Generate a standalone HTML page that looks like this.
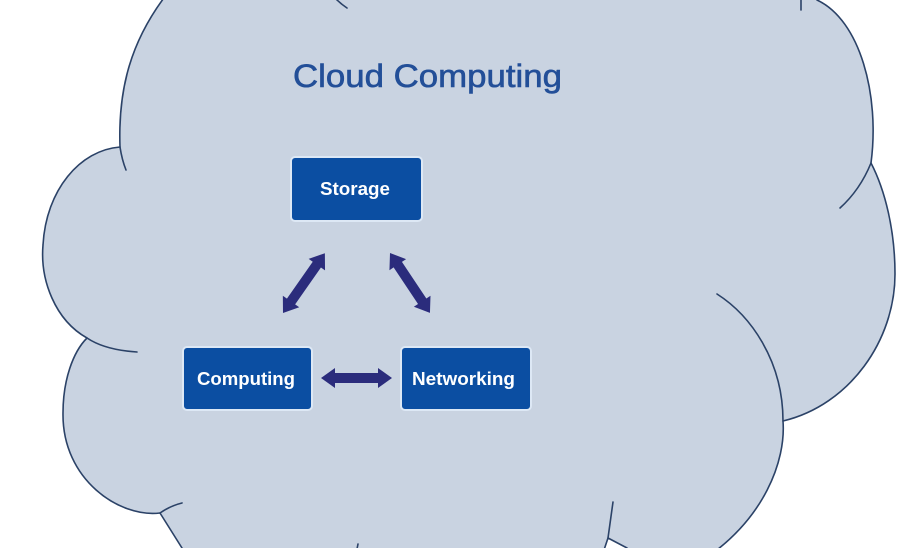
<!DOCTYPE html>
<html>
<head>
<meta charset="utf-8">
<style>
  html, body { margin: 0; padding: 0; background: #ffffff; }
  body { width: 900px; height: 548px; overflow: hidden; }
  svg { display: block; }
</style>
</head>
<body>
<svg width="900" height="548" viewBox="0 0 900 548" xmlns="http://www.w3.org/2000/svg">
  <rect x="0" y="0" width="900" height="548" fill="#ffffff"/>
  <!-- cloud body -->
  <path d="M 170,-10 L 812,-10 L 817,0
           C 860,20 880,95 871,163
           C 885,190 895,230 895,274
           C 895,340 850,405 783,421
           C 786,460 765,520 700,562
           L 632,562 L 627,548 L 608,538 L 600,562
           L 190,562 L 182,548 L 160,513
           C 120,518 62,480 63,413
           C 63,380 73,352 87,338
           C 55,320 40,280 43,245
           C 46,190 80,150 120,147
           C 118,90 130,40 170,-10 Z"
        fill="#c9d3e1" stroke="#2b4267" stroke-width="1.6" stroke-linejoin="round"/>
  <!-- inner lobe tails -->
  <g fill="none" stroke="#2b4267" stroke-width="1.6" stroke-linecap="round">
    <path d="M 120,147 Q 122,160 126,170"/>
    <path d="M 87,338 Q 105,350 137,352"/>
    <path d="M 160,513 Q 170,506 182,503"/>
    <path d="M 871,163 Q 860,190 840,208"/>
    <path d="M 717,294 C 750,315 783,360 783,421"/>
    <path d="M 608,538 L 613,502"/>
    <path d="M 357,549 L 358,544"/>
    <path d="M 336,-1 Q 341,4 347,8"/>
    <path d="M 801,-1 L 801,10"/>
  </g>

  <!-- title -->
  <text x="293" y="87" font-family="'Liberation Sans', sans-serif" font-size="32" fill="#234f98" stroke="#234f98" stroke-width="0.6" textLength="269" lengthAdjust="spacingAndGlyphs">Cloud Computing</text>

  <!-- boxes -->
  <g stroke="#dde8f5" stroke-width="2" fill="#0b4ea2">
    <rect x="291" y="157" width="131" height="64" rx="4" ry="4"/>
    <rect x="183" y="347" width="129" height="63" rx="4" ry="4"/>
    <rect x="401" y="347" width="130" height="63" rx="4" ry="4"/>
  </g>
  <g font-family="'Liberation Sans', sans-serif" font-weight="bold" font-size="18" fill="#ffffff">
    <text x="320" y="195" textLength="70" lengthAdjust="spacingAndGlyphs">Storage</text>
    <text x="197" y="385" textLength="98" lengthAdjust="spacingAndGlyphs">Computing</text>
    <text x="412" y="385" textLength="103" lengthAdjust="spacingAndGlyphs">Networking</text>
  </g>

  <!-- arrows -->
  <g fill="#2b2c7c">
    <!-- horizontal: 321 -> 392 at y=378, L=71 -->
    <polygon transform="translate(321,378)" points="0,0 14,-10 14,-5 57,-5 57,-10 71,0 57,10 57,5 14,5 14,10"/>
    <!-- left diagonal: (283,313) -> (325,253), L=73 -->
    <polygon transform="translate(283,313) rotate(-55)" points="0,0 14,-10 14,-5 59,-5 59,-10 73,0 59,10 59,5 14,5 14,10"/>
    <!-- right diagonal: (390,253) -> (430,313), L=72 -->
    <polygon transform="translate(390,253) rotate(56.3)" points="0,0 14,-10 14,-5 58,-5 58,-10 72,0 58,10 58,5 14,5 14,10"/>
  </g>
</svg>
</body>
</html>
